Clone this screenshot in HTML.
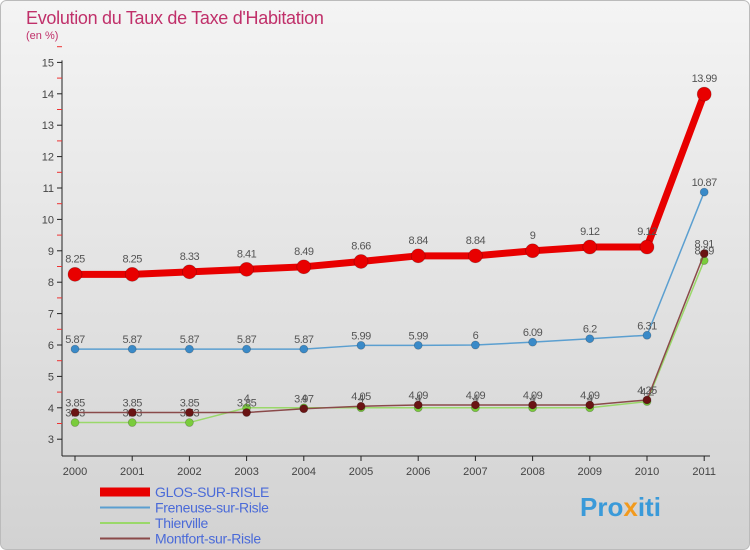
<!DOCTYPE html>
<html><head><meta charset="utf-8"><style>
body{margin:0;}
#wrap{width:750px;height:550px;position:relative;overflow:hidden;font-family:"Liberation Sans",sans-serif;}
</style></head><body>
<div id="wrap">
<svg id="svg" width="750" height="550" xmlns="http://www.w3.org/2000/svg">
<defs><linearGradient id="bg" x1="0" y1="0" x2="0" y2="1"><stop offset="0" stop-color="#f4f4f4"/><stop offset="1" stop-color="#d2d2d2"/></linearGradient></defs>
<rect x="0.5" y="0.5" width="749" height="549" rx="6" fill="url(#bg)" stroke="#bbb"/>
<text x="26" y="24" font-size="18" fill="#c0306a" letter-spacing="-0.3">Evolution du Taux de Taxe d'Habitation</text>
<text x="26" y="39" font-size="11" fill="#c0306a">(en %)</text>
<g id="axes"></g><g id="series"></g><g id="legend"></g>
<text x="580" y="516" font-size="26" font-weight="bold" fill="#3a9ad9">Pro<tspan fill="#f29a1d">x</tspan>iti</text>
</svg></div>
<script>
const years=["2000","2001","2002","2003","2004","2005","2006","2007","2008","2009","2010","2011"];
const yTicks=[3,4,5,6,7,8,9,10,11,12,13,14,15];
const glos=[8.25,8.25,8.33,8.41,8.49,8.66,8.84,8.84,9,9.12,9.12,13.99];
const freneuse=[5.87,5.87,5.87,5.87,5.87,5.99,5.99,6,6.09,6.2,6.31,10.87];
const thierville=[3.53,3.53,3.53,4,4,4,4,4,4,4,4.2,8.69];
const montfort=[3.85,3.85,3.85,3.85,3.97,4.05,4.09,4.09,4.09,4.09,4.25,8.91];
const names=["GLOS-SUR-RISLE","Freneuse-sur-Risle","Thierville","Montfort-sur-Risle"];
const NS="http://www.w3.org/2000/svg";
const x=i=>75+i*57.2;
const y=v=>439.2-(v-3)*31.4;
function mk(tag,at,parent){const e=document.createElementNS(NS,tag);for(const k in at)e.setAttribute(k,at[k]);parent.appendChild(e);return e;}
const ax=document.getElementById('axes');
let l=mk('line',{x1:62,y1:y(15)-2,x2:62,y2:456,stroke:'#222'},ax);


l=mk('line',{x1:62,y1:456,x2:710,y2:456,stroke:'#222'},ax);


yTicks.forEach(v=>{
 mk('line',{x1:57,y1:y(v),x2:62,y2:y(v),stroke:'#222'},ax);
 mk('line',{x1:57,y1:y(v+0.5),x2:62,y2:y(v+0.5),stroke:'#e33'},ax);
 const t=mk('text',{x:54,y:y(v)+4,'font-size':11,'text-anchor':'end',fill:'#444'},ax);t.textContent=v;
 
 
});
years.forEach((yr,i)=>{
 mk('line',{x1:x(i),y1:456,x2:x(i),y2:461,stroke:'#222'},ax);
 const t=mk('text',{x:x(i),y:475,'font-size':11,'text-anchor':'middle',fill:'#444'},ax);t.textContent=yr;
 
 
});
const sg=document.getElementById('series');
const defs=[[thierville,'#9ad86a','#7acc3c',1.5,4,'thierville'],[montfort,'#8a4a4a','#6a1414',1.5,4,'montfort'],[freneuse,'#5b9fd0','#3a8ac8',1.5,4,'freneuse'],[glos,'#e80000','#e80000',7,7,'glos']];
defs.forEach(([d,lc,pc,w,r,n])=>{
 const g=mk('g',{},sg);
 
 
 const p=mk('polyline',{points:d.map((v,i)=>x(i)+','+y(v)).join(' '),fill:'none',stroke:lc,'stroke-width':w},g);
 
 
 d.forEach((v,i)=>{
  const c=mk('circle',{cx:x(i),cy:y(v),r:r,fill:pc,stroke:'rgba(0,0,0,0.25)','stroke-width':0.7},g);
  
  
  const t=mk('text',{x:x(i),y:y(v)-(n==='glos'?12:6),'font-size':11,'text-anchor':'middle',fill:'#555','letter-spacing':'-0.5'},g);
  t.textContent=String(v);
  
  
 });
});
const lg=document.getElementById('legend');
const lcols=['#e80000','#5b9fd0','#9ad86a','#8a4a4a'],lw=[9,2,2,2];
names.forEach((nm,i)=>{
 const g=mk('g',{},lg);
 
 
 const yy=492+i*15.5;
 mk('line',{x1:100,y1:yy,x2:150,y2:yy,stroke:lcols[i],'stroke-width':lw[i]},g);
 const t=mk('text',{x:155,y:yy+5,'font-size':14,fill:'#4a6ad8','letter-spacing':'-0.3'},g);t.textContent=nm;
});
</script>
</body></html>
